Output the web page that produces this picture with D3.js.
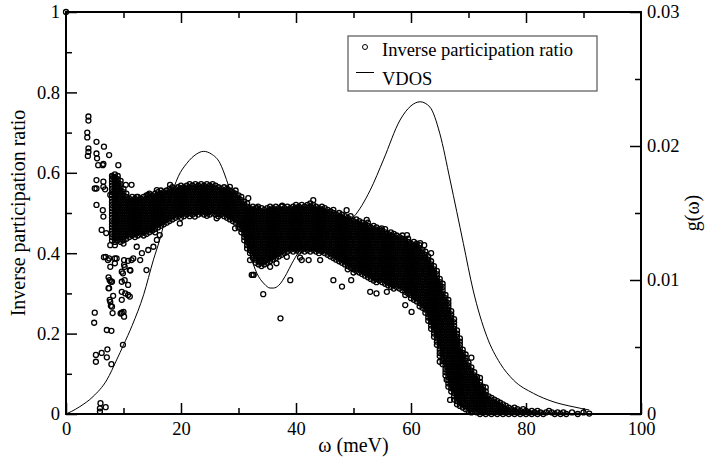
<!DOCTYPE html>
<html>
<head>
<meta charset="utf-8">
<script src="https://cdn.jsdelivr.net/npm/d3@7"></script>
<style>
  body { margin: 0; background: #fff; }
  svg, svg text { font-family: "Liberation Serif", "Times New Roman", Tinos, Times, "DejaVu Serif", "Noto Serif", serif; }
</style>
</head>
<body>
<div id="chart"></div>
<script>
// ---- values ----
// sparse points: [omega (meV), inverse participation ratio]
const loosePoints = [
  [0, 1.0],
  [3.9,.740],[3.9,.730],[3.7,.700],[3.7,.688],[3.9,.661],[3.8,.642],[3.9,.652],
  [5.3,.677],[5.3,.648],[5.4,.636],[5.6,.619],[6.6,.665],[7.5,.644],[6.5,.622],[5.3,.582],
  [5.3,.561],[6.5,.578],[6.8,.559],[8.5,.578],[9.1,.619],[8.2,.590],[10.4,.570],[6.4,.619],
  [6.5,.565],[5.0,.561],[7.7,.545],[5.3,.520],[6.4,.507],[6.5,.491],[6.2,.458],[7.0,.450],
  [7.7,.420],[6.9,.391],[7.7,.366],[7.6,.333],[8.0,.329],[7.5,.313],[7.6,.284],[8.0,.267],
  [5.0,.252],[4.9,.227],[5.2,.147],[5.2,.130],[6.2,.152],[7.2,.161],[7.1,.141],[7.9,.124],
  [7.1,.209],[7.9,.207],[6.0,.027],[6.9,.017],[5.9,.014],[5.9,.006],[9.9,.172],[8.1,.251],
  [9.7,.252],[10.1,.242],[8.2,.294],[7.8,.269],[7.4,.313],[7.4,.340],[7.8,.329],[7.7,.279],
  [9.7,.284],[10.3,.300],[11.1,.292],[9.7,.329],[9.9,.350],[10.8,.321],[11.2,.357],[6.6,.390],
  [7.5,.387],[8.5,.375],[8.8,.387],[10.1,.383],[10.1,.371],[14.0,.358],[11.7,.387],[9.7,.304],
  [10.8,.296],[11.1,.358],[10.2,.366],[10.2,.333],[9.7,.354],[8.5,.387],[7.3,.383],
  [10.0,.254],[9.5,.250],
  [12.3,.416],[13.2,.400],[14.3,.408],[12.9,.383],[11.4,.383],[10.8,.381],[16.3,.445],
  [15.8,.433],[15.2,.416],[11.4,.570],[14.3,.545],[12.3,.540],[18.1,.570],[15.8,.557],
  [19.8,.474],[22.4,.491],[24.5,.493],[26.2,.487],[29.4,.462],[32.0,.383],[32.6,.346],
  [32.3,.346],[28.5,.565],[31.7,.537],[33.2,.512],
  [43.0,.532],[48.8,.507],[52.3,.483],[54.9,.462],[59.3,.445],[61.6,.425],[33.4,.516],
  [37.6,.518],[40.1,.512],[34.3,.298],[39.0,.333],[44.2,.383],[41.0,.383],[46.5,.333],
  [48.0,.317],[49.6,.333],[52.9,.304],[54.0,.300],[55.8,.304],[32.6,.346],[35.5,.366],
  [36.6,.375],[38.4,.391],[40.7,.389],[42.2,.383],[37.3,.238],
  [59.0,.271],[60.1,.254],[65.0,.130],[66.2,.085],[66.8,.035],[73.0,.066],[63.5,.400],
  [62.3,.420],[70.5,.140],[72.0,.090]
];

// dense cloud, one column per omega: [omega, ipr, ipr, ...]
const bandLow = [
  [8.0,.592,.584,.576,.568,.560,.552,.544,.536,.528,.520,.512,.504,.496,.488,.480,.472,.464,.456,.448,.440,.432],
  [8.5,.596,.588,.580,.572,.564,.556,.548,.540,.532,.524,.516,.508,.500,.492,.484,.476,.468,.460,.452,.444,.436,.428,.420],
  [9.0,.592,.584,.576,.568,.560,.552,.544,.536,.528,.520,.512,.504,.496,.488,.480,.472,.464,.456,.448,.440,.432],
  [9.5,.580,.572,.564,.556,.548,.540,.532,.524,.516,.508,.500,.492,.484,.476,.468,.460,.452,.444,.436,.428],
  [10.0,.560,.552,.544,.536,.528,.520,.512,.504,.496,.488,.480,.472,.464,.456,.448,.440,.432,.424],
  [10.5,.548,.540,.532,.524,.516,.508,.500,.492,.484,.476,.468,.460,.452,.444,.436],
  [11.0,.536,.528,.520,.512,.504,.496,.488,.480,.472,.464,.456,.448,.440],
  [11.5,.540,.532,.524,.516,.508,.500,.492,.484,.476,.468,.460,.452,.444],
  [12.0,.536,.528,.520,.512,.504,.496,.488,.480,.472,.464,.456,.448,.440],
  [12.5,.540,.532,.524,.516,.508,.500,.492,.484,.476,.468,.460,.452,.444],
  [13.0,.536,.528,.520,.512,.504,.496,.488,.480,.472,.464,.456,.448],
  [13.5,.540,.532,.524,.516,.508,.500,.492,.484,.476,.468,.460,.452,.444],
  [14.0,.544,.536,.528,.520,.512,.504,.496,.488,.480,.472,.464,.456,.448],
  [14.5,.548,.540,.532,.524,.516,.508,.500,.492,.484,.476,.468,.460,.452],
  [15.0,.544,.536,.528,.520,.512,.504,.496,.488,.480,.472,.464,.456],
  [15.5,.548,.540,.532,.524,.516,.508,.500,.492,.484,.476,.468,.460,.452],
  [16.0,.552,.544,.536,.528,.520,.512,.504,.496,.488,.480,.472,.464],
  [16.5,.556,.548,.540,.532,.524,.516,.508,.500,.492,.484,.476,.468],
  [17.0,.552,.544,.536,.528,.520,.512,.504,.496,.488,.480,.472],
  [17.5,.556,.548,.540,.532,.524,.516,.508,.500,.492,.484,.476],
  [18.0,.560,.552,.544,.536,.528,.520,.512,.504,.496,.488,.480],
  [18.5,.564,.556,.548,.540,.532,.524,.516,.508,.500,.492,.484],
  [19.0,.560,.552,.544,.536,.528,.520,.512,.504,.496,.488],
  [19.5,.564,.556,.548,.540,.532,.524,.516,.508,.500,.492],
  [20.0,.568,.560,.552,.544,.536,.528,.520,.512,.504,.496,.488]
];
const bandMid = [
  [20.5,.564,.556,.548,.540,.532,.524,.516,.508,.500,.492],
  [21.0,.568,.560,.552,.544,.536,.528,.520,.512,.504,.496],
  [21.5,.572,.564,.556,.548,.540,.532,.524,.516,.508,.500,.492],
  [22.0,.568,.560,.552,.544,.536,.528,.520,.512,.504,.496],
  [22.5,.572,.564,.556,.548,.540,.532,.524,.516,.508,.500],
  [23.0,.568,.560,.552,.544,.536,.528,.520,.512,.504,.496],
  [23.5,.572,.564,.556,.548,.540,.532,.524,.516,.508,.500],
  [24.0,.568,.560,.552,.544,.536,.528,.520,.512,.504,.496],
  [24.5,.572,.564,.556,.548,.540,.532,.524,.516,.508,.500],
  [25.0,.568,.560,.552,.544,.536,.528,.520,.512,.504,.496],
  [25.5,.572,.564,.556,.548,.540,.532,.524,.516,.508,.500],
  [26.0,.568,.560,.552,.544,.536,.528,.520,.512,.504,.496],
  [26.5,.564,.556,.548,.540,.532,.524,.516,.508,.500,.492],
  [27.0,.560,.552,.544,.536,.528,.520,.512,.504,.496],
  [27.5,.564,.556,.548,.540,.532,.524,.516,.508,.500,.492],
  [28.0,.560,.552,.544,.536,.528,.520,.512,.504,.496,.488],
  [28.5,.556,.548,.540,.532,.524,.516,.508,.500,.492,.484],
  [29.0,.552,.544,.536,.528,.520,.512,.504,.496,.488,.480],
  [29.5,.556,.548,.540,.532,.524,.516,.508,.500,.492,.484,.476],
  [30.0,.544,.536,.528,.520,.512,.504,.496,.488,.480,.472,.464],
  [30.5,.540,.532,.524,.516,.508,.500,.492,.484,.476,.468,.460,.452],
  [31.0,.528,.520,.512,.504,.496,.488,.480,.472,.464,.456,.448,.440,.432],
  [31.5,.524,.516,.508,.500,.492,.484,.476,.468,.460,.452,.444,.436,.428,.420,.412],
  [32.0,.512,.504,.496,.488,.480,.472,.464,.456,.448,.440,.432,.424,.416,.408,.400]
];
const bandPlateau = [
  [32.5,.516,.508,.500,.492,.484,.476,.468,.460,.452,.444,.436,.428,.420,.412,.404,.396,.388],
  [33.0,.512,.504,.496,.488,.480,.472,.464,.456,.448,.440,.432,.424,.416,.408,.400,.392,.384,.376],
  [33.5,.508,.500,.492,.484,.476,.468,.460,.452,.444,.436,.428,.420,.412,.404,.396,.388,.380,.372],
  [34.0,.512,.504,.496,.488,.480,.472,.464,.456,.448,.440,.432,.424,.416,.408,.400,.392,.384,.376,.368],
  [34.5,.508,.500,.492,.484,.476,.468,.460,.452,.444,.436,.428,.420,.412,.404,.396,.388,.380,.372],
  [35.0,.512,.504,.496,.488,.480,.472,.464,.456,.448,.440,.432,.424,.416,.408,.400,.392,.384,.376],
  [35.5,.516,.508,.500,.492,.484,.476,.468,.460,.452,.444,.436,.428,.420,.412,.404,.396,.388,.380],
  [36.0,.512,.504,.496,.488,.480,.472,.464,.456,.448,.440,.432,.424,.416,.408,.400,.392,.384],
  [36.5,.516,.508,.500,.492,.484,.476,.468,.460,.452,.444,.436,.428,.420,.412,.404,.396,.388],
  [37.0,.512,.504,.496,.488,.480,.472,.464,.456,.448,.440,.432,.424,.416,.408,.400,.392],
  [37.5,.516,.508,.500,.492,.484,.476,.468,.460,.452,.444,.436,.428,.420,.412,.404,.396],
  [38.0,.512,.504,.496,.488,.480,.472,.464,.456,.448,.440,.432,.424,.416,.408,.400],
  [38.5,.516,.508,.500,.492,.484,.476,.468,.460,.452,.444,.436,.428,.420,.412,.404],
  [39.0,.512,.504,.496,.488,.480,.472,.464,.456,.448,.440,.432,.424,.416,.408],
  [39.5,.516,.508,.500,.492,.484,.476,.468,.460,.452,.444,.436,.428,.420,.412,.404],
  [40.0,.520,.512,.504,.496,.488,.480,.472,.464,.456,.448,.440,.432,.424,.416,.408],
  [40.5,.516,.508,.500,.492,.484,.476,.468,.460,.452,.444,.436,.428,.420,.412,.404],
  [41.0,.520,.512,.504,.496,.488,.480,.472,.464,.456,.448,.440,.432,.424,.416,.408],
  [41.5,.516,.508,.500,.492,.484,.476,.468,.460,.452,.444,.436,.428,.420,.412,.404],
  [42.0,.520,.512,.504,.496,.488,.480,.472,.464,.456,.448,.440,.432,.424,.416,.408],
  [42.5,.524,.516,.508,.500,.492,.484,.476,.468,.460,.452,.444,.436,.428,.420,.412,.404],
  [43.0,.520,.512,.504,.496,.488,.480,.472,.464,.456,.448,.440,.432,.424,.416,.408],
  [43.5,.516,.508,.500,.492,.484,.476,.468,.460,.452,.444,.436,.428,.420,.412,.404],
  [44.0,.512,.504,.496,.488,.480,.472,.464,.456,.448,.440,.432,.424,.416,.408,.400],
  [44.5,.516,.508,.500,.492,.484,.476,.468,.460,.452,.444,.436,.428,.420,.412,.404],
  [45.0,.512,.504,.496,.488,.480,.472,.464,.456,.448,.440,.432,.424,.416,.408,.400],
  [45.5,.508,.500,.492,.484,.476,.468,.460,.452,.444,.436,.428,.420,.412,.404,.396],
  [46.0,.504,.496,.488,.480,.472,.464,.456,.448,.440,.432,.424,.416,.408,.400,.392]
];
const bandFall = [
  [46.5,.508,.500,.492,.484,.476,.468,.460,.452,.444,.436,.428,.420,.412,.404,.396,.388],
  [47.0,.496,.488,.480,.472,.464,.456,.448,.440,.432,.424,.416,.408,.400,.392,.384],
  [47.5,.500,.492,.484,.476,.468,.460,.452,.444,.436,.428,.420,.412,.404,.396,.388,.380],
  [48.0,.496,.488,.480,.472,.464,.456,.448,.440,.432,.424,.416,.408,.400,.392,.384,.376],
  [48.5,.492,.484,.476,.468,.460,.452,.444,.436,.428,.420,.412,.404,.396,.388,.380,.372],
  [49.0,.488,.480,.472,.464,.456,.448,.440,.432,.424,.416,.408,.400,.392,.384,.376,.368,.360],
  [49.5,.492,.484,.476,.468,.460,.452,.444,.436,.428,.420,.412,.404,.396,.388,.380,.372,.364],
  [50.0,.480,.472,.464,.456,.448,.440,.432,.424,.416,.408,.400,.392,.384,.376,.368,.360,.352],
  [50.5,.484,.476,.468,.460,.452,.444,.436,.428,.420,.412,.404,.396,.388,.380,.372,.364,.356],
  [51.0,.480,.472,.464,.456,.448,.440,.432,.424,.416,.408,.400,.392,.384,.376,.368,.360,.352],
  [51.5,.476,.468,.460,.452,.444,.436,.428,.420,.412,.404,.396,.388,.380,.372,.364,.356,.348],
  [52.0,.472,.464,.456,.448,.440,.432,.424,.416,.408,.400,.392,.384,.376,.368,.360,.352,.344],
  [52.5,.476,.468,.460,.452,.444,.436,.428,.420,.412,.404,.396,.388,.380,.372,.364,.356,.348,.340],
  [53.0,.464,.456,.448,.440,.432,.424,.416,.408,.400,.392,.384,.376,.368,.360,.352,.344,.336],
  [53.5,.468,.460,.452,.444,.436,.428,.420,.412,.404,.396,.388,.380,.372,.364,.356,.348,.340,.332],
  [54.0,.464,.456,.448,.440,.432,.424,.416,.408,.400,.392,.384,.376,.368,.360,.352,.344,.336,.328],
  [54.5,.460,.452,.444,.436,.428,.420,.412,.404,.396,.388,.380,.372,.364,.356,.348,.340,.332],
  [55.0,.456,.448,.440,.432,.424,.416,.408,.400,.392,.384,.376,.368,.360,.352,.344,.336,.328],
  [55.5,.460,.452,.444,.436,.428,.420,.412,.404,.396,.388,.380,.372,.364,.356,.348,.340,.332,.324],
  [56.0,.448,.440,.432,.424,.416,.408,.400,.392,.384,.376,.368,.360,.352,.344,.336,.328,.320],
  [56.5,.452,.444,.436,.428,.420,.412,.404,.396,.388,.380,.372,.364,.356,.348,.340,.332,.324,.316],
  [57.0,.448,.440,.432,.424,.416,.408,.400,.392,.384,.376,.368,.360,.352,.344,.336,.328,.320,.312],
  [57.5,.444,.436,.428,.420,.412,.404,.396,.388,.380,.372,.364,.356,.348,.340,.332,.324,.316],
  [58.0,.440,.432,.424,.416,.408,.400,.392,.384,.376,.368,.360,.352,.344,.336,.328,.320,.312],
  [58.5,.444,.436,.428,.420,.412,.404,.396,.388,.380,.372,.364,.356,.348,.340,.332,.324,.316,.308],
  [59.0,.432,.424,.416,.408,.400,.392,.384,.376,.368,.360,.352,.344,.336,.328,.320,.312,.304,.296],
  [59.5,.436,.428,.420,.412,.404,.396,.388,.380,.372,.364,.356,.348,.340,.332,.324,.316,.308,.300],
  [60.0,.424,.416,.408,.400,.392,.384,.376,.368,.360,.352,.344,.336,.328,.320,.312,.304,.296,.288],
  [60.5,.428,.420,.412,.404,.396,.388,.380,.372,.364,.356,.348,.340,.332,.324,.316,.308,.300,.292,.284],
  [61.0,.424,.416,.408,.400,.392,.384,.376,.368,.360,.352,.344,.336,.328,.320,.312,.304,.296,.288,.280],
  [61.5,.420,.412,.404,.396,.388,.380,.372,.364,.356,.348,.340,.332,.324,.316,.308,.300,.292,.284,.276,.268],
  [62.0,.408,.400,.392,.384,.376,.368,.360,.352,.344,.336,.328,.320,.312,.304,.296,.288,.280,.272,.264]
];
const bandEdge = [
  [62.5,.404,.396,.388,.380,.372,.364,.356,.348,.340,.332,.324,.316,.308,.300,.292,.284,.276,.268,.260,.252],
  [63.0,.392,.384,.376,.368,.360,.352,.344,.336,.328,.320,.312,.304,.296,.288,.280,.272,.264,.256,.248,.240,.232],
  [63.5,.380,.372,.364,.356,.348,.340,.332,.324,.316,.308,.300,.292,.284,.276,.268,.260,.252,.244,.236,.228,.220,.212],
  [64.0,.368,.360,.352,.344,.336,.328,.320,.312,.304,.296,.288,.280,.272,.264,.256,.248,.240,.232,.224,.216,.208,.200,.192],
  [64.5,.356,.348,.340,.332,.324,.316,.308,.300,.292,.284,.276,.268,.260,.252,.244,.236,.228,.220,.212,.204,.196,.188,.180,.172],
  [65.0,.336,.328,.320,.312,.304,.296,.288,.280,.272,.264,.256,.248,.240,.232,.224,.216,.208,.200,.192,.184,.176,.168,.160,.152,.144],
  [65.5,.324,.316,.308,.300,.292,.284,.276,.268,.260,.252,.244,.236,.228,.220,.212,.204,.196,.188,.180,.172,.164,.156,.148,.140,.132,.124],
  [66.0,.296,.288,.280,.272,.264,.256,.248,.240,.232,.224,.216,.208,.200,.192,.184,.176,.168,.160,.152,.144,.136,.128,.120,.112,.104,.096],
  [66.5,.284,.276,.268,.260,.252,.244,.236,.228,.220,.212,.204,.196,.188,.180,.172,.164,.156,.148,.140,.132,.124,.116,.108,.100,.092,.084,.076,.068],
  [67.0,.256,.248,.240,.232,.224,.216,.208,.200,.192,.184,.176,.168,.160,.152,.144,.136,.128,.120,.112,.104,.096,.088,.080,.072,.064,.056],
  [67.5,.236,.228,.220,.212,.204,.196,.188,.180,.172,.164,.156,.148,.140,.132,.124,.116,.108,.100,.092,.084,.076,.068,.060,.052,.044,.036],
  [68.0,.208,.200,.192,.184,.176,.168,.160,.152,.144,.136,.128,.120,.112,.104,.096,.088,.080,.072,.064,.056,.048,.040,.032,.024],
  [68.5,.188,.180,.172,.164,.156,.148,.140,.132,.124,.116,.108,.100,.092,.084,.076,.068,.060,.052,.044,.036,.028,.020],
  [69.0,.160,.152,.144,.136,.128,.120,.112,.104,.096,.088,.080,.072,.064,.056,.048,.040,.032,.024,.016],
  [69.5,.148,.140,.132,.124,.116,.108,.100,.092,.084,.076,.068,.060,.052,.044,.036,.028,.020,.012],
  [70.0,.128,.120,.112,.104,.096,.088,.080,.072,.064,.056,.048,.040,.032,.024,.016,.008],
  [70.5,.116,.108,.100,.092,.084,.076,.068,.060,.052,.044,.036,.028,.020,.012,.004],
  [71.0,.104,.096,.088,.080,.072,.064,.056,.048,.040,.032,.024,.016,.008],
  [71.5,.092,.084,.076,.068,.060,.052,.044,.036,.028,.020,.012,.004],
  [72.0,.080,.072,.064,.056,.048,.040,.032,.024,.016,.008,.000],
  [72.5,.068,.060,.052,.044,.036,.028,.020,.012,.004],
  [73.0,.056,.048,.040,.032,.024,.016,.008,.000],
  [73.5,.044,.036,.028,.020,.012,.004],
  [74.0,.040,.032,.024,.016,.008,.000],
  [74.5,.036,.028,.020,.012,.004],
  [75.0,.032,.024,.016,.008,.000],
  [75.5,.028,.020,.012,.004],
  [76.0,.024,.016,.008,.000],
  [76.5,.020,.012,.004],
  [77.0,.016,.008,.000],
  [77.5,.012,.004],
  [78.0,.016,.008,.000],
  [78.5,.012,.004],
  [79.0,.008,.000],
  [79.5,.012,.004],
  [80.0,.008,.000],
  [80.5,.004],
  [81.0,.008,.000],
  [81.5,.004],
  [82.0,.008,.000],
  [82.5,.004],
  [83.0,.000],
  [83.5,.004],
  [84.0,.008],
  [84.5,.004],
  [85.0,.000],
  [85.5,.004],
  [86.0,.000],
  [86.5,.004],
  [87.0,.000],
  [88.0,.004],
  [89.0,.000],
  [90.0,.004],
  [91.0,.001]
];

// vibrational density of states, right axis
const vdosOmega = [0, 1, 2.4, 4.7, 7.1, 8.8, 10, 11.5, 13.5, 15.2, 16.3, 18.1, 19.5, 21, 22.7, 23.9,
  25.3, 26.8, 27.9, 29, 30, 31, 32, 33.2, 34.5, 35.5, 36.1, 37, 38.4, 39.3, 40.5, 42, 44, 46,
  48, 50, 52.9, 55.2, 58.1, 60, 61.6, 63.3, 65, 66.8, 69.1, 70.8, 73.2, 75.5, 77.8, 81.3,
  84.7, 88.2, 91];
const vdosG = [0, 0.0002, 0.00055, 0.0013, 0.00254, 0.00403, 0.00515, 0.0066, 0.0089, 0.0115,
  0.0130, 0.0160, 0.0177, 0.0187, 0.0194, 0.0196, 0.0194, 0.0187, 0.0175, 0.0160, 0.0146,
  0.0132, 0.0119, 0.0105, 0.0097, 0.0094, 0.0094, 0.0096, 0.0105, 0.01125, 0.0121, 0.0128,
  0.0133, 0.0137, 0.0141, 0.0147, 0.0167, 0.01896, 0.02194, 0.0230, 0.0233, 0.0229, 0.02095,
  0.01746, 0.01274, 0.00925, 0.00577, 0.00378, 0.00254, 0.00154, 0.00092, 0.00054, 0.0003];

const xTicks = [0, 20, 40, 60, 80, 100];
const xMinor = [10, 30, 50, 70, 90];
const iprTicks = [0, 0.2, 0.4, 0.6, 0.8, 1];
const iprMinor = [0.1, 0.3, 0.5, 0.7, 0.9];
const gTicks = [0, 0.01, 0.02, 0.03];
const gMinor = [0.005, 0.015, 0.025];

const serif = '"Liberation Serif", "Times New Roman", Tinos, Times, "DejaVu Serif", "Noto Serif", serif';
const fs = 18.5;      // tick labels, legend
const titleFs = 20;   // axis titles

const margin = {top: 12, right: 64, bottom: 46, left: 66},
    width = 705 - margin.left - margin.right,
    height = 460 - margin.top - margin.bottom;

const root = d3.select("#chart")
    .append("svg")
    .attr("width", 705)
    .attr("height", 460)
    .attr("font-family", serif);
const svg = root.append("g")
    .attr("transform", "translate(" + margin.left + "," + margin.top + ")");

const x = d3.scaleLinear().domain([0, 100]).range([0, width]);
const y = d3.scaleLinear().domain([0, 1]).range([height, 0]);
const yg = d3.scaleLinear().domain([0, 0.03]).range([height, 0]);

function tidy(g) {
    g.attr("font-family", serif).attr("font-size", fs);
    g.select(".domain").remove();
    g.selectAll("line").attr("stroke", "#000").attr("stroke-width", 1.5);
    g.selectAll("text").attr("fill", "#000");
}

// bottom / top
svg.append("g").attr("transform", "translate(0," + height + ")")
    .call(d3.axisBottom(x).tickValues(xTicks).tickSizeInner(-11).tickSizeOuter(0)
        .tickPadding(8).tickFormat(d3.format("d")))
    .call(tidy);
svg.append("g").attr("transform", "translate(0," + height + ")")
    .call(d3.axisBottom(x).tickValues(xMinor).tickSize(-6).tickFormat(""))
    .call(tidy);
svg.append("g")
    .call(d3.axisTop(x).tickValues(xTicks.slice(1, -1)).tickSize(-11).tickFormat(""))
    .call(tidy);
svg.append("g")
    .call(d3.axisTop(x).tickValues(xMinor).tickSize(-6).tickFormat(""))
    .call(tidy);

// left
svg.append("g")
    .call(d3.axisLeft(y).tickValues(iprTicks).tickSizeInner(-11).tickSizeOuter(0)
        .tickPadding(6).tickFormat(d3.format("~g")))
    .call(tidy);
svg.append("g")
    .call(d3.axisLeft(y).tickValues(iprMinor).tickSize(-6).tickFormat(""))
    .call(tidy);

// right
svg.append("g").attr("transform", "translate(" + width + ",0)")
    .call(d3.axisRight(yg).tickValues(gTicks).tickSizeInner(-11).tickSizeOuter(0)
        .tickPadding(6).tickFormat(d3.format("~g")))
    .call(tidy);
svg.append("g").attr("transform", "translate(" + width + ",0)")
    .call(d3.axisRight(yg).tickValues(gMinor).tickSize(-6).tickFormat(""))
    .call(tidy);

// frame
svg.append("rect")
    .attr("width", width)
    .attr("height", height)
    .attr("fill", "none")
    .attr("stroke", "#000")
    .attr("stroke-width", 2);

// VDOS curve
const vdos = vdosOmega.map((w, i) => [w, vdosG[i]]);
svg.append("path")
    .datum(vdos)
    .attr("fill", "none")
    .attr("stroke", "#000")
    .attr("stroke-width", 1)
    .attr("d", d3.line()
        .x(d => x(d[0]))
        .y(d => yg(d[1]))
        .curve(d3.curveMonotoneX));

// IPR scatter
const columns = [].concat(bandLow, bandMid, bandPlateau, bandFall, bandEdge);
const points = loosePoints.concat(
    columns.flatMap(([w, ...vals]) => vals.map(v => [w, v])));

svg.append("g")
    .selectAll("circle")
    .data(points)
    .enter()
    .append("circle")
    .attr("cx", d => x(d[0]))
    .attr("cy", d => y(d[1]))
    .attr("r", 2.5)
    .attr("fill", "none")
    .attr("stroke", "#000")
    .attr("stroke-width", 1.3);

// axis titles
root.append("text")
    .attr("x", margin.left + width / 2)
    .attr("y", 452)
    .attr("text-anchor", "middle")
    .attr("font-size", titleFs)
    .text("ω (meV)");
root.append("text")
    .attr("transform", "translate(25," + (margin.top + height / 2) + ") rotate(-90)")
    .attr("text-anchor", "middle")
    .attr("font-size", titleFs)
    .text("Inverse participation ratio");
root.append("text")
    .attr("transform", "translate(699," + (margin.top + height / 2) + ") rotate(-90)")
    .attr("text-anchor", "middle")
    .attr("font-size", titleFs)
    .text("g(ω)");

// legend
const lg = root.append("g");
lg.append("rect")
    .attr("x", 348).attr("y", 36)
    .attr("width", 249).attr("height", 55)
    .attr("fill", "#fff")
    .attr("stroke", "#555")
    .attr("stroke-width", 1.2);
lg.append("circle")
    .attr("cx", 365).attr("cy", 47).attr("r", 2.5)
    .attr("fill", "none").attr("stroke", "#000").attr("stroke-width", 1);
lg.append("text").attr("x", 382).attr("y", 56).attr("font-size", fs)
    .text("Inverse participation ratio");
lg.append("line")
    .attr("x1", 356).attr("x2", 374).attr("y1", 72.5).attr("y2", 72.5)
    .attr("stroke", "#000").attr("stroke-width", 1);
lg.append("text").attr("x", 382).attr("y", 85).attr("font-size", fs)
    .text("VDOS");
</script>
</body>
</html>
